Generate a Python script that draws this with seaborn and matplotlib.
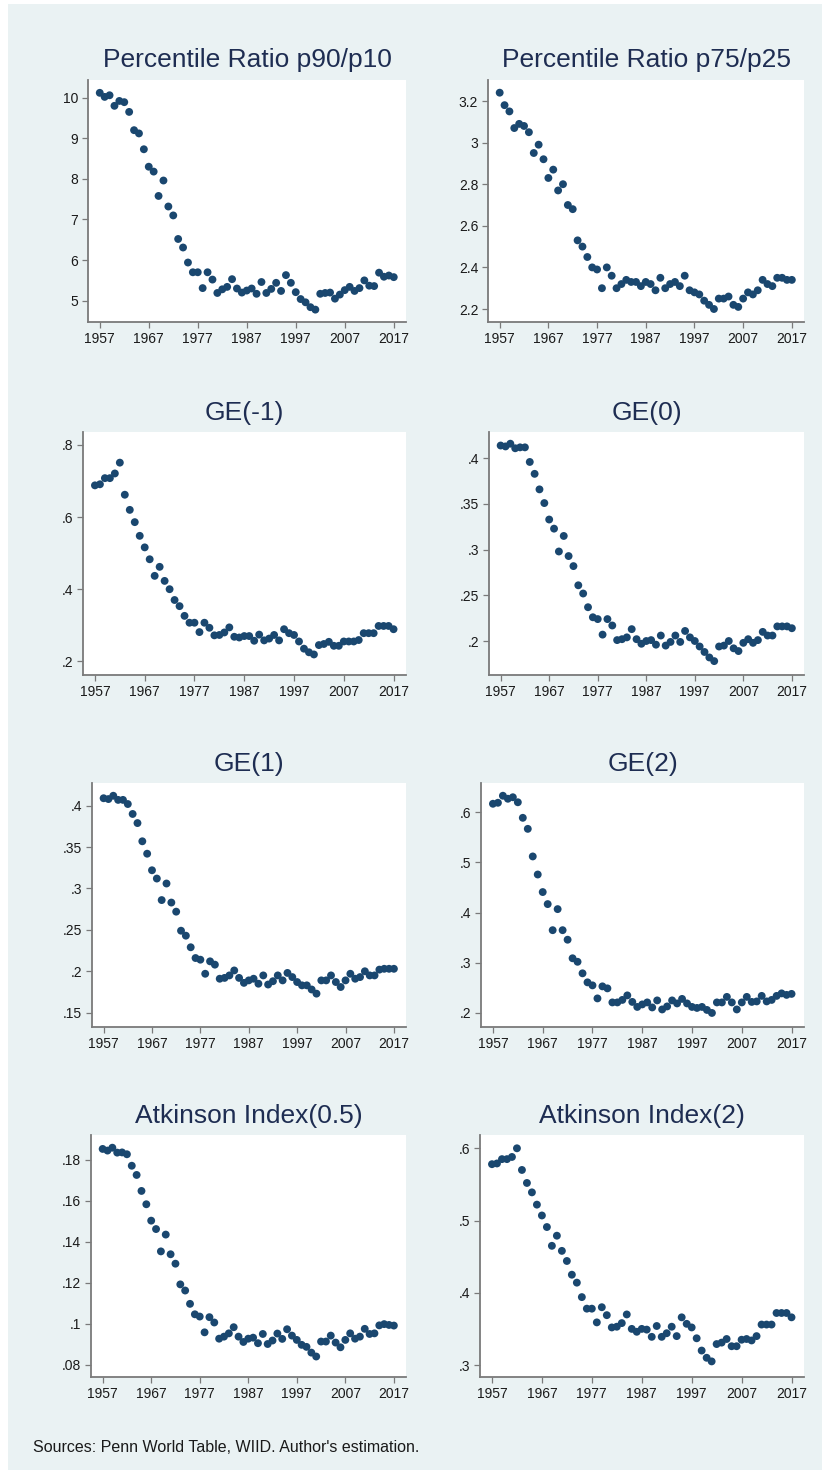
import numpy as np
import pandas as pd
import matplotlib
matplotlib.use("Agg")
import matplotlib.pyplot as plt
import seaborn as sns

# ---- data -----------------------------------------------------------------
years = list(range(1957, 2018))

p90_p10 = [10.12, 10.02, 10.06, 9.80, 9.92, 9.89, 9.65, 9.20, 9.12, 8.73,
           8.30, 8.18, 7.58, 7.96, 7.32, 7.10, 6.52, 6.31, 5.94, 5.70,
           5.70, 5.31, 5.70, 5.52, 5.19, 5.28, 5.34, 5.53, 5.30, 5.20,
           5.25, 5.30, 5.17, 5.46, 5.19, 5.29, 5.44, 5.24, 5.63, 5.44,
           5.21, 5.04, 4.96, 4.84, 4.78, 5.17, 5.19, 5.20, 5.05, 5.15,
           5.26, 5.34, 5.24, 5.31, 5.50, 5.37, 5.36, 5.69, 5.59, 5.62,
           5.58]

p75_p25 = [3.24, 3.18, 3.15, 3.07, 3.09, 3.08, 3.05, 2.95, 2.99, 2.92,
           2.83, 2.87, 2.77, 2.80, 2.70, 2.68, 2.53, 2.50, 2.45, 2.40,
           2.39, 2.30, 2.40, 2.36, 2.30, 2.32, 2.34, 2.33, 2.33, 2.31,
           2.33, 2.32, 2.29, 2.35, 2.30, 2.32, 2.33, 2.31, 2.36, 2.29,
           2.28, 2.27, 2.24, 2.22, 2.20, 2.25, 2.25, 2.26, 2.22, 2.21,
           2.25, 2.28, 2.27, 2.29, 2.34, 2.32, 2.31, 2.35, 2.35, 2.34,
           2.34]

ge_m1 = [0.688, 0.691, 0.708, 0.708, 0.721, 0.751, 0.662, 0.620, 0.586, 0.548,
         0.516, 0.483, 0.437, 0.462, 0.423, 0.400, 0.370, 0.353, 0.326, 0.307,
         0.307, 0.281, 0.307, 0.293, 0.272, 0.273, 0.280, 0.294, 0.268, 0.266,
         0.270, 0.270, 0.257, 0.274, 0.258, 0.263, 0.273, 0.258, 0.289, 0.278,
         0.273, 0.255, 0.235, 0.225, 0.219, 0.245, 0.248, 0.254, 0.243, 0.243,
         0.255, 0.255, 0.255, 0.259, 0.278, 0.278, 0.278, 0.298, 0.298, 0.298,
         0.289]

ge_0 = [0.414, 0.413, 0.416, 0.411, 0.412, 0.412, 0.396, 0.383, 0.366, 0.351,
        0.333, 0.323, 0.298, 0.315, 0.293, 0.282, 0.261, 0.252, 0.237, 0.226,
        0.224, 0.207, 0.224, 0.217, 0.201, 0.202, 0.204, 0.213, 0.202, 0.197,
        0.200, 0.201, 0.196, 0.206, 0.195, 0.199, 0.206, 0.199, 0.211, 0.204,
        0.200, 0.194, 0.188, 0.182, 0.178, 0.194, 0.195, 0.200, 0.192, 0.189,
        0.198, 0.202, 0.198, 0.201, 0.210, 0.206, 0.206, 0.216, 0.216, 0.216,
        0.214]

ge_1 = [0.409, 0.408, 0.412, 0.407, 0.407, 0.402, 0.390, 0.379, 0.357, 0.342,
        0.322, 0.312, 0.286, 0.306, 0.283, 0.272, 0.249, 0.243, 0.229, 0.216,
        0.214, 0.197, 0.212, 0.208, 0.191, 0.192, 0.195, 0.201, 0.192, 0.186,
        0.189, 0.191, 0.185, 0.195, 0.184, 0.188, 0.195, 0.189, 0.198, 0.193,
        0.187, 0.183, 0.183, 0.178, 0.173, 0.189, 0.189, 0.195, 0.187, 0.181,
        0.189, 0.197, 0.191, 0.193, 0.200, 0.195, 0.195, 0.202, 0.203, 0.203,
        0.203]

ge_2 = [0.617, 0.619, 0.633, 0.627, 0.630, 0.620, 0.589, 0.567, 0.512, 0.476,
        0.441, 0.417, 0.365, 0.407, 0.365, 0.346, 0.309, 0.302, 0.279, 0.261,
        0.255, 0.229, 0.253, 0.249, 0.221, 0.221, 0.226, 0.235, 0.222, 0.212,
        0.217, 0.221, 0.211, 0.225, 0.207, 0.213, 0.225, 0.219, 0.228, 0.219,
        0.212, 0.210, 0.212, 0.206, 0.200, 0.221, 0.221, 0.232, 0.221, 0.207,
        0.221, 0.232, 0.222, 0.223, 0.234, 0.223, 0.226, 0.234, 0.239, 0.236,
        0.238]

atk_05 = [0.1854, 0.1846, 0.1860, 0.1836, 0.1837, 0.1828, 0.1772, 0.1727, 0.1649, 0.1584,
          0.1504, 0.1463, 0.1354, 0.1436, 0.1340, 0.1294, 0.1193, 0.1163, 0.1098, 0.1047,
          0.1036, 0.0959, 0.1033, 0.1007, 0.0928, 0.0938, 0.0954, 0.0984, 0.0938, 0.0912,
          0.0928, 0.0933, 0.0906, 0.0951, 0.0902, 0.0919, 0.0953, 0.0927, 0.0974, 0.0943,
          0.0922, 0.0898, 0.0888, 0.0860, 0.0841, 0.0914, 0.0914, 0.0943, 0.0909, 0.0886,
          0.0922, 0.0954, 0.0928, 0.0938, 0.0976, 0.0951, 0.0954, 0.0993, 0.0999, 0.0995,
          0.0992]

atk_2 = [0.578, 0.579, 0.585, 0.585, 0.588, 0.600, 0.570, 0.552, 0.539, 0.522,
         0.507, 0.491, 0.465, 0.479, 0.458, 0.444, 0.425, 0.414, 0.394, 0.378,
         0.378, 0.359, 0.380, 0.369, 0.352, 0.353, 0.358, 0.370, 0.350, 0.346,
         0.350, 0.349, 0.339, 0.354, 0.339, 0.344, 0.353, 0.340, 0.366, 0.357,
         0.352, 0.337, 0.320, 0.310, 0.305, 0.329, 0.331, 0.336, 0.326, 0.326,
         0.335, 0.336, 0.334, 0.340, 0.356, 0.356, 0.356, 0.372, 0.372, 0.372,
         0.366]

titles = ["Percentile Ratio p90/p10", "Percentile Ratio p75/p25",
          "GE(-1)", "GE(0)", "GE(1)", "GE(2)",
          "Atkinson Index(0.5)", "Atkinson Index(2)"]
series = [p90_p10, p75_p25, ge_m1, ge_0, ge_1, ge_2, atk_05, atk_2]

x_ticks = [1957, 1967, 1977, 1987, 1997, 2007, 2017]
y_ticks = [
    [5, 6, 7, 8, 9, 10],
    [2.2, 2.4, 2.6, 2.8, 3.0, 3.2],
    [0.2, 0.4, 0.6, 0.8],
    [0.2, 0.25, 0.3, 0.35, 0.4],
    [0.15, 0.2, 0.25, 0.3, 0.35, 0.4],
    [0.2, 0.3, 0.4, 0.5, 0.6],
    [0.08, 0.1, 0.12, 0.14, 0.16, 0.18],
    [0.3, 0.4, 0.5, 0.6],
]
y_labels = [
    ["5", "6", "7", "8", "9", "10"],
    ["2.2", "2.4", "2.6", "2.8", "3", "3.2"],
    [".2", ".4", ".6", ".8"],
    [".2", ".25", ".3", ".35", ".4"],
    [".15", ".2", ".25", ".3", ".35", ".4"],
    [".2", ".3", ".4", ".5", ".6"],
    [".08", ".1", ".12", ".14", ".16", ".18"],
    [".3", ".4", ".5", ".6"],
]
source_note = "Sources: Penn World Table, WIID. Author's estimation."

# ---- layout (pixels) ------------------------------------------------------
W, H = 830, 1474
BG = "#EAF2F3"
NAVY = "#1A476F"
TITLE_C = "#1E2D52"
AXIS_C = "#7A7A7A"

# plot boxes: x0, x1, y0(top), y1(bottom)
boxes = [
    (88, 406, 80, 322), (488, 804, 80, 322),
    (83, 406, 432, 675), (489, 804, 432, 675),
    (92, 406, 783, 1027), (481, 804, 783, 1027),
    (91, 406, 1135, 1377), (480, 804, 1135, 1377),
]
ylims = [
    (4.475, 10.436), (2.1375, 3.301),
    (0.162, 0.836), (0.1628, 0.4288),
    (0.1327, 0.4274), (0.172, 0.6584),
    (0.0741, 0.1922), (0.2834, 0.6184),
]

sns.set_theme(style="white")
plt.rcParams["font.family"] = ["Liberation Sans", "DejaVu Sans"]

fig = plt.figure(figsize=(W / 100, H / 100), dpi=100)
fig.patch.set_facecolor("white")
# light blue-grey graph region with a thin white border, kept behind the panels
fig.patches.append(matplotlib.patches.Rectangle(
    (8 / W, 4 / H), (W - 16) / W, (H - 8) / H, transform=fig.transFigure,
    facecolor=BG, edgecolor="none", zorder=-10))

for i, (title, vals) in enumerate(zip(titles, series)):
    x0, x1, y0, y1 = boxes[i]
    ax = fig.add_axes([x0 / W, 1 - y1 / H, (x1 - x0) / W, (y1 - y0) / H])
    ax.set_zorder(1)
    ax.set_facecolor("white")
    df = pd.DataFrame({"year": years, "value": vals})
    sns.scatterplot(data=df, x="year", y="value", ax=ax, color=NAVY,
                    s=32, linewidth=0, edgecolor="none", legend=False)
    ax.set_xlim(1954.6, 2019.5)
    ax.set_ylim(*ylims[i])
    ax.set_xticks(x_ticks)
    ax.set_xticklabels([str(t) for t in x_ticks])
    ax.set_yticks(y_ticks[i])
    ax.set_yticklabels(y_labels[i])
    ax.set_xlabel("")
    ax.set_ylabel("")
    for side in ("top", "right"):
        ax.spines[side].set_visible(False)
    for side in ("left", "bottom"):
        ax.spines[side].set_color(AXIS_C)
        ax.spines[side].set_linewidth(1.3)
    ax.tick_params(axis="both", which="major", direction="out", length=4,
                   width=0.9, color=AXIS_C, labelsize=10, labelcolor="#1a1a1a",
                   pad=3, left=True, bottom=True)
    ax.set_title(title, fontsize=19, color=TITLE_C, pad=9)
    ax.grid(False)

fig.text(33 / W, 1 - 1452 / H, source_note, fontsize=11.5, color="#1a1a1a",
         ha="left", va="baseline")

fig.savefig("out.png", dpi=100, facecolor=fig.get_facecolor())
